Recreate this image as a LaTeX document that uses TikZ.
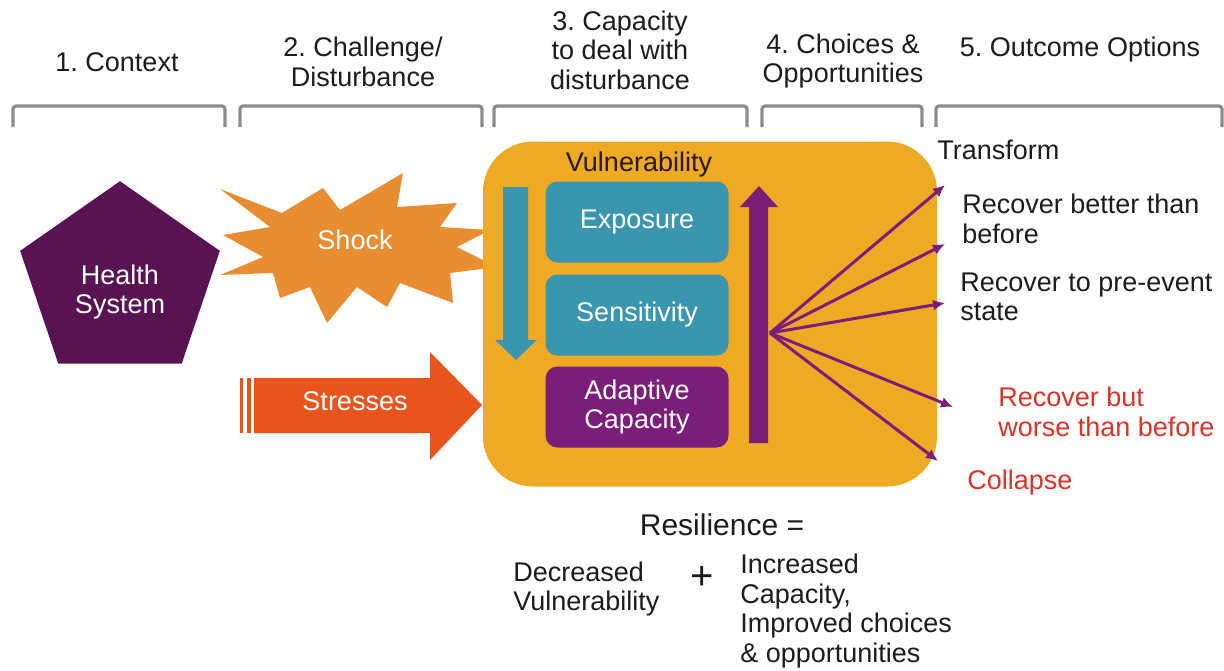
\documentclass[tikz,border=0pt]{standalone}
\usepackage{fontspec}
\setmainfont{Liberation Sans}
\usetikzlibrary{shapes.geometric, arrows.meta}
\definecolor{ink}{RGB}{28,28,28}
\definecolor{brkgray}{RGB}{140,140,140}
\definecolor{hspurple}{RGB}{88,20,82}
\definecolor{adpurple}{RGB}{122,30,122}
\definecolor{vteal}{RGB}{58,150,175}
\definecolor{capyellow}{RGB}{238,170,36}
\definecolor{shockorange}{RGB}{233,141,50}
\definecolor{stressred}{RGB}{232,84,28}
\definecolor{outred}{RGB}{220,50,40}
\definecolor{vulink}{RGB}{40,25,10}
\newcommand\fs{\fontsize{13.5}{14.8}\selectfont}
\frenchspacing

\begin{document}
\begin{tikzpicture}[x=0.5pt, y=-0.5pt,
txt/.style={font=\fs, text=ink, inner sep=0pt, align=center},
lft/.style={txt, anchor=west, align=left},
brk/.style={draw=brkgray, line width=1.6pt, rounded corners=1.5pt},
inbox/.style={rounded corners=6pt, minimum width=91.5pt, minimum height=40.5pt, font=\fs, text=white, align=center},
fan/.style={draw=adpurple, line width=1.5pt, -{Latex[length=6pt, width=5.5pt]}}]
\useasboundingbox (0,0) rectangle (1224,670);

% headers and brackets
\node[txt] (h1) at (117,62) {1. Context};
\node[txt] (h2) at (363,62) {2. Challenge/\\Disturbance};
\node[txt] (h3) at (620,50) {3. Capacity\\to deal with\\disturbance};
\node[txt] (h4) at (843,61) {4. Choices \&\\Opportunities};
\node[txt] (h5) at (1080,50) {5. Outcome Options};
\foreach \a/\b in {13/225, 240/482, 494/747, 762/922, 936/1222}
  \draw[brk] (\a,127) |- (\b,106) -- (\b,127);

% context
\node[regular polygon, regular polygon sides=5, minimum size=105pt, inner sep=0pt, fill=hspurple, yscale=0.96] (hs) at (120,282) {};
\node[txt, text=white] (hst) at ([yshift=-5pt]hs.center) {Health\\System};

% challenge
\fill[shockorange] (220,189) -- (282,213) -- (323,188) -- (340,210) -- (403,173) -- (397,207)
  -- (457,203) -- (440,227) -- (490,230) -- (457,247) -- (497,267) -- (450,273) -- (453,303)
  -- (400,283) -- (387,307) -- (357,287) -- (327,323) -- (310,287) -- (280,298) -- (273,273)
  -- (220,275) -- (263,257) -- (223,235) -- (270,227) -- cycle;
\node[txt, text=white] (sh) at (355,240) {Shock};
\fill[stressred] (240,378) rectangle (243,433);
\fill[stressred] (247,378) rectangle (251,433);
\fill[stressred] (254,378) -- (430,378) -- (430,352) -- (482,405) -- (430,460) -- (430,433) -- (254,433) -- cycle;
\node[txt, text=white] (st) at (355,401) {Stresses};

% capacity
\node[fill=capyellow, rounded corners=25pt, minimum width=227pt, minimum height=172.5pt] (cap) at (710,314) {};
\node[txt, text=vulink] (vul) at (639,165) {Vulnerability};
\node[inbox, fill=vteal] (exp) at (637,222) {Exposure};
\node[inbox, fill=vteal] (sen) at (637,315) {Sensitivity};
\node[inbox, fill=adpurple] (adc) at (637,407) {Adaptive\\Capacity};
\fill[vteal] (503,187) -- (528,187) -- (528,340) -- (537,340) -- (516,360) -- (495,340) -- (503,340) -- cycle;
\fill[adpurple] (749,443) -- (749,207) -- (740,207) -- (759,186) -- (778,207) -- (768,207) -- (768,443) -- cycle;

% choices
\coordinate (fo) at (770,333);
\coordinate (o1) at (945,185);
\coordinate (o2) at (945,244);
\coordinate (o3) at (945,303);
\coordinate (o4) at (953,407);
\coordinate (o5) at (938,461);
\foreach \i in {1,...,5}
  \draw[fan] (fo) -- (o\i);

% outcomes
\node[lft] (tr) at (937,150) {Transform};
\node[lft] (rb) at (962,219) {Recover better than\\before};
\node[lft] (rp) at (960,297) {Recover to pre-event\\state};
\node[lft, text=outred] (rw) at (998,412) {Recover but\\worse than before};
\node[lft, text=outred] (co) at (967,483) {Collapse};

% resilience
\node[txt, font=\fontsize{15}{16}\selectfont] (res) at (722,525) {Resilience =};
\node[lft] (dv) at (513,589) {Decreased\\Vulnerability};
\node[txt, font=\fontsize{20}{20}\selectfont] (pl) at (702,578) {+};
\node[lft] (ic) at (740,611) {Increased\\Capacity,\\Improved choices\\\& opportunities};
\end{tikzpicture}
\end{document}
